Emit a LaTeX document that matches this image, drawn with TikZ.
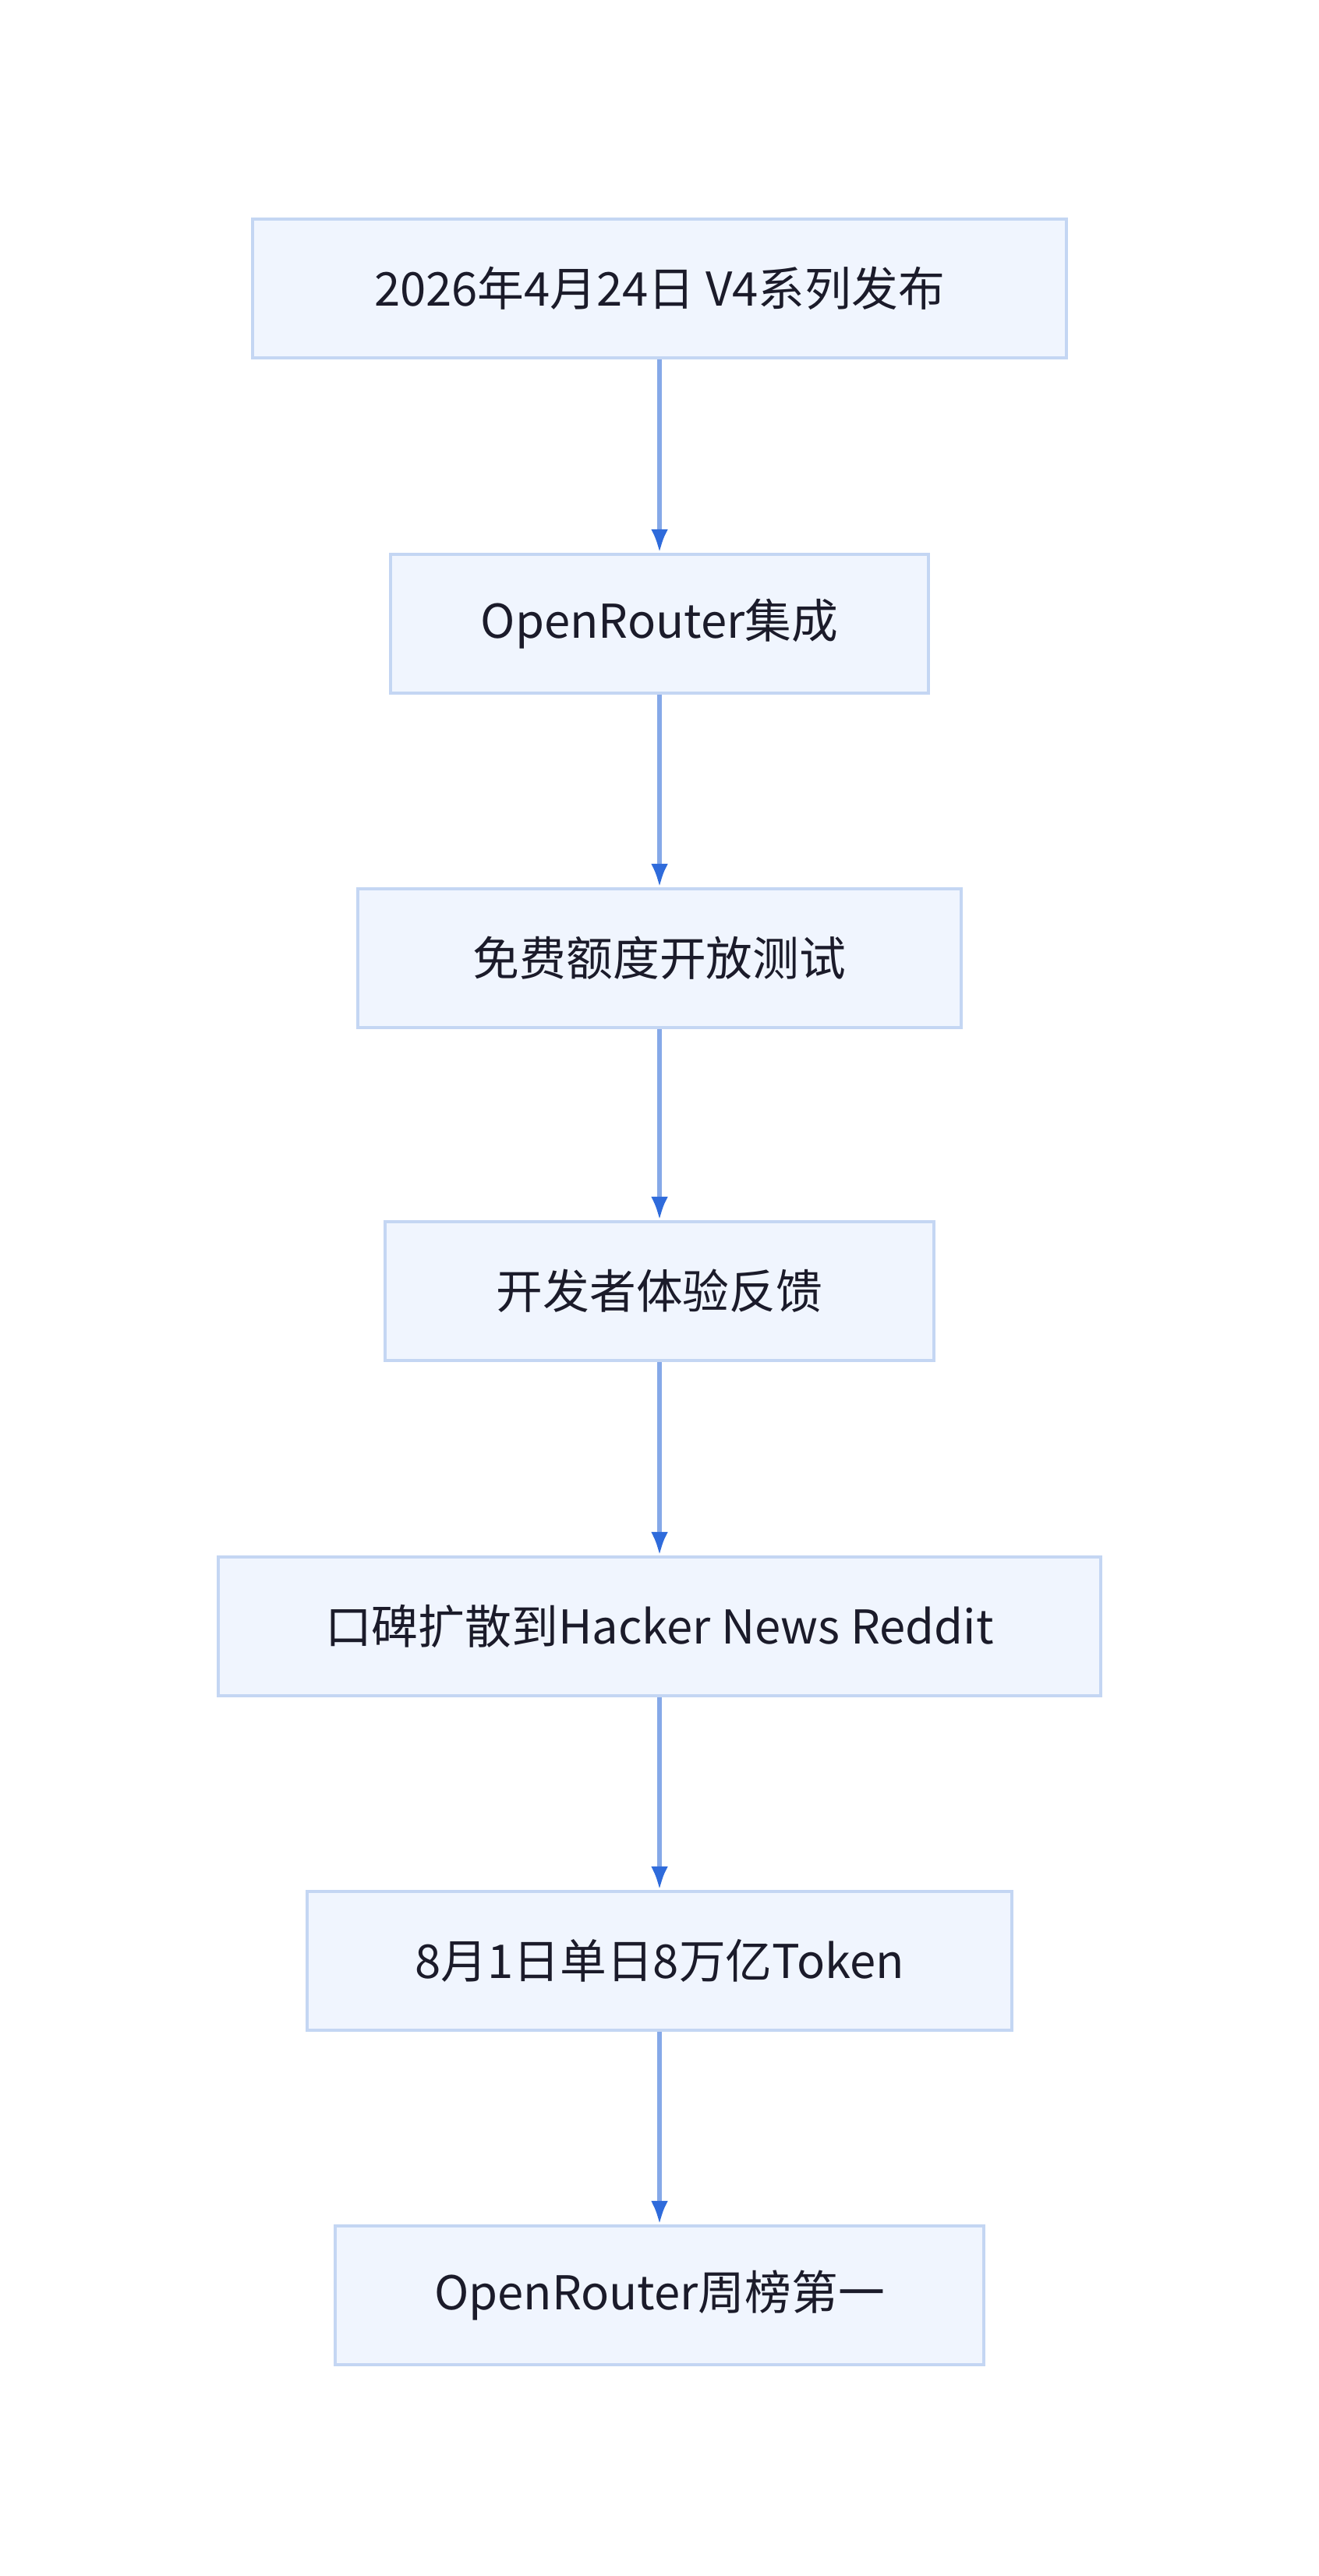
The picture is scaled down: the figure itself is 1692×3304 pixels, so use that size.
\documentclass[tikz,border=0pt]{standalone}
\usepackage{fontspec}
\setmainfont{Noto Sans CJK SC}
\usetikzlibrary{arrows.meta}
\definecolor{boxfill}{HTML}{F0F5FE}
\definecolor{boxline}{HTML}{C4D6F3}
\definecolor{edgeline}{HTML}{86A9E8}
\definecolor{edgetip}{HTML}{2F6BDB}
\definecolor{txt}{HTML}{1B1B2A}
\begin{document}
\begin{tikzpicture}[x=0.01cm,y=-0.01cm,
  stage/.style={draw=boxline,line width=1.2pt,fill=boxfill,text=txt,
    minimum height=1.78cm,inner sep=0pt,font=\fontsize{17}{20}\selectfont},
  flow/.style={draw=edgeline,line width=1.6pt,
    -{Latex[length=0.3cm,width=0.22cm,color=edgetip]}}]
\useasboundingbox (0,0) rectangle (1692,3304);
\node[stage,minimum width=10.43cm] (b1) at (846,370) {2026年4月24日 V4系列发布};
\node[stage,minimum width=6.90cm] (b2) at (846,800) {OpenRouter集成};
\node[stage,minimum width=7.74cm] (b3) at (846,1229) {免费额度开放测试};
\node[stage,minimum width=7.04cm] (b4) at (846,1656) {开发者体验反馈};
\node[stage,minimum width=11.32cm] (b5) at (846,2086) {口碑扩散到Hacker News Reddit};
\node[stage,minimum width=9.03cm] (b6) at (846,2515) {8月1日单日8万亿Token};
\node[stage,minimum width=8.31cm] (b7) at (846,2944) {OpenRouter周榜第一};
\foreach \a/\b in {b1/b2,b2/b3,b3/b4,b4/b5,b5/b6,b6/b7}
  \draw[flow] (\a) -- (\b);
\end{tikzpicture}
\end{document}
